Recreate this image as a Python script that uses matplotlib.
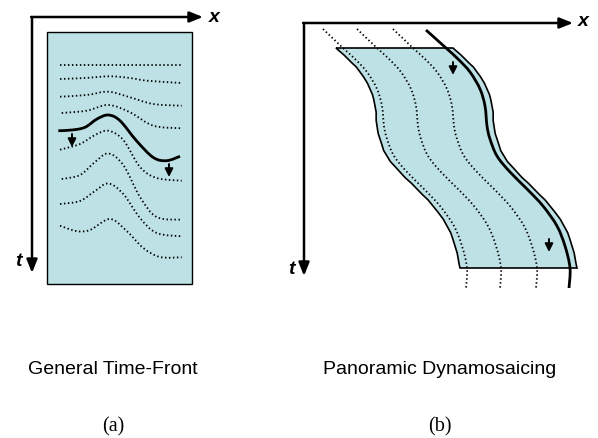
import numpy as np
import matplotlib
matplotlib.use("Agg")
import matplotlib.pyplot as plt
from matplotlib.path import Path
from matplotlib.patches import PathPatch, Polygon, FancyArrowPatch

# ---------------- data (pixel-space diagram geometry) ----------------
# Panel (a): time-front curves (x, y) waypoints
a_dotted = [
    [(60, 66), (182, 66)],
    [(60, 80), (85, 79), (110, 77.3), (130, 79), (147, 81.7), (182, 84)],
    [(60, 97.7), (86.7, 96), (108.3, 92.7), (130, 98.3), (153.3, 105), (181.7, 106.7)],
    [(61.7, 114), (86.7, 111.7), (108.3, 106), (130, 113.3), (153.3, 126.7), (181.7, 129.3)],
    [(60, 150.7), (80, 145), (95, 136), (108.3, 131.7), (123.3, 141), (140, 168), (156.7, 179), (181.7, 181.7)],
    [(61.7, 180), (80, 176), (95, 163), (108.3, 154.5), (123.3, 166), (140, 198), (156.7, 218), (181.7, 220.7)],
    [(60, 205), (80, 202), (95, 192), (108.3, 184.5), (123.3, 195), (140, 219), (156.7, 234), (181.7, 237.3)],
    [(60, 226.7), (76, 232), (90, 231), (110, 220), (126.7, 232), (143.3, 249), (160, 258), (181.7, 258.3)],
]
a_solid = [(58.3, 131.7), (72, 131), (85, 128.3), (97, 120), (108.3, 116), (120, 121.7), (136.7, 142),
           (153.3, 158.5), (166.7, 161.7), (180, 157.3)]
a_rect = (47, 33, 192, 285)          # left, top, right, bottom
a_arrows = [((72, 135), (72, 148)), ((169, 165), (169, 178))]
a_origin = (32, 18)
a_xaxis_end = 203
a_taxis_end = 274

# Panel (b): base (left edge) curve of the strip, and offsets of the other curves
b_base = [(316, 30), (336, 49), (348, 60), (360, 73), (370, 90), (375, 107), (377, 127),
          (380, 140), (387, 157), (400, 173), (417, 190), (433, 207), (447, 227),
          (455, 247), (460, 269), (459, 289)]
b_top, b_bottom = 49, 269
b_dotted_offsets = [7, 41, 77]
b_solid_offset = 110
b_width = 117
b_arrows = [((453, 63), (453, 76)), ((549, 240), (549, 253))]
b_origin = (304, 24)
b_xaxis_end = 573
b_taxis_end = 277

labels = ["General Time-Front", "Panoramic Dynamosaicing"]
sublabels = ["(a)", "(b)"]
label_x = [113, 440]

FILL = "#bde1e4"

# ---------------- helpers ----------------
def smooth_path(pts):
    """Catmull-Rom spline through pts as a cubic Bezier Path."""
    pts = np.asarray(pts, float)
    if len(pts) == 2:
        return Path(pts, [Path.MOVETO, Path.LINETO])
    verts = [pts[0]]
    codes = [Path.MOVETO]
    n = len(pts)
    for i in range(n - 1):
        p0 = pts[i - 1] if i > 0 else pts[i]
        p1 = pts[i]
        p2 = pts[i + 1]
        p3 = pts[i + 2] if i + 2 < n else pts[i + 1]
        c1 = p1 + (p2 - p0) / 6.0
        c2 = p2 - (p3 - p1) / 6.0
        verts += [c1, c2, p2]
        codes += [Path.CURVE4] * 3
    return Path(np.array(verts), codes)

def draw_curve(ax, pts, **kw):
    ax.add_patch(PathPatch(smooth_path(pts), fill=False, **kw))

def small_arrow(ax, p0, p1):
    ax.add_patch(FancyArrowPatch(p0, p1, arrowstyle="-|>,head_width=0.3,head_length=0.6",
                                 mutation_scale=8, lw=1.4, color="black", shrinkA=0, shrinkB=0))

def axis_arrow(ax, p0, p1):
    ax.add_patch(FancyArrowPatch(p0, p1, arrowstyle="-|>,head_width=0.32,head_length=0.8",
                                 mutation_scale=10, lw=1.8, color="black", shrinkA=0, shrinkB=0))

# ---------------- figure ----------------
fig = plt.figure(figsize=(5.98, 4.39), dpi=100)
ax = fig.add_axes([0, 0, 1, 1])
ax.set_xlim(0, 598)
ax.set_ylim(439, 0)
ax.axis("off")

dot_style = dict(color="black", lw=1.3, linestyle=(0, (0.8, 1.4)))

# ---- panel (a) ----
l, t, r, b = a_rect
ax.add_patch(Polygon([(l, t), (r, t), (r, b), (l, b)], closed=True,
                     facecolor=FILL, edgecolor="black", lw=1.0))
for c in a_dotted:
    draw_curve(ax, c, **dot_style)
draw_curve(ax, a_solid, color="black", lw=2.0)
for p0, p1 in a_arrows:
    small_arrow(ax, p0, p1)
ox, oy = a_origin
axis_arrow(ax, (ox - 0.9, oy), (a_xaxis_end, oy))
axis_arrow(ax, (ox, oy), (ox, a_taxis_end))
ax.text(a_xaxis_end + 11, oy - 1, "x", fontsize=14, fontweight="bold", fontstyle="italic",
        family="Liberation Sans", ha="center", va="center")
ax.text(ox - 14, 262, "t", fontsize=14, fontweight="bold", fontstyle="italic",
        family="Liberation Sans", ha="center", va="center")

# ---- panel (b) ----
base = np.asarray(b_base, float)
inside = base[(base[:, 1] >= b_top) & (base[:, 1] <= b_bottom)]
left_edge = smooth_path(inside)
right_edge = Path(left_edge.vertices + np.array([b_width, 0.0]), left_edge.codes)
lpts = left_edge.interpolated(20).vertices
rpts = right_edge.interpolated(20).vertices
poly = np.vstack([lpts, rpts[::-1]])
ax.add_patch(Polygon(poly, closed=True, facecolor=FILL, edgecolor="black", lw=1.2,
                     joinstyle="miter"))
for off in b_dotted_offsets:
    draw_curve(ax, base + np.array([off, 0.0]), **dot_style)
solid_pts = np.vstack([[base[0] + [b_solid_offset + 0, 1]], base[1:] + [b_solid_offset, 0]])
draw_curve(ax, solid_pts, color="black", lw=2.0)
for p0, p1 in b_arrows:
    small_arrow(ax, p0, p1)
ox, oy = b_origin
axis_arrow(ax, (ox - 0.9, oy), (b_xaxis_end, oy))
axis_arrow(ax, (ox, oy), (ox, b_taxis_end))
ax.text(b_xaxis_end + 10, oy - 2, "x", fontsize=14, fontweight="bold", fontstyle="italic",
        family="Liberation Sans", ha="center", va="center")
ax.text(ox - 13, 270, "t", fontsize=14, fontweight="bold", fontstyle="italic",
        family="Liberation Sans", ha="center", va="center")

# ---- captions ----
for x, lab, sub in zip(label_x, labels, sublabels):
    ax.text(x, 370, lab, fontsize=14, family="Liberation Sans", ha="center", va="center")
    ax.text(x, 427, sub, fontsize=14.5, family="Liberation Serif", ha="center", va="center")

fig.savefig("out.png", dpi=100)
